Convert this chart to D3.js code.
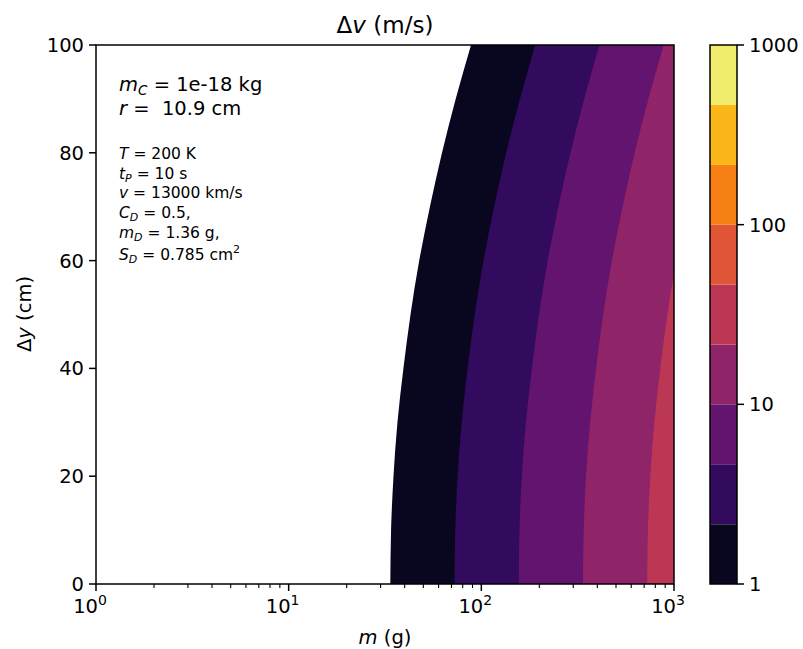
<!DOCTYPE html>
<html>
<head>
<meta charset="utf-8">
<script src="https://cdn.jsdelivr.net/npm/d3@7"></script>
<style>
  body { margin: 0; background: #fff; }
  text { font-family: "DejaVu Sans", sans-serif; fill: #000; white-space: pre; }
</style>
</head>
<body>
<svg id="svg1" width="803" height="649"></svg>
<script>
'use strict';

// values
let dyValues = [0, 10, 20, 30, 40, 50, 60, 70, 80, 90, 100];         // Δy (cm)
let levels   = [1, 2.15, 4.64, 10, 21.5, 46.4, 100, 215, 464, 1000];  // Δv contour levels (m/s)
// m (g) where each contour level crosses Δy = dyValues[i]
let mAt1    = [33.7, 34.0, 35.0, 36.7, 39.4, 42.9, 47.6, 54.1, 62.5, 73.6, 88.4];
let mAt2    = [72.6, 73.2, 75.3, 79.1, 84.8, 92.4, 102.6, 116.5, 134.6, 158.6, 190.4];
let mAt4    = [156.4, 157.7, 162.2, 170.4, 182.8, 199.1, 221.0, 251.0, 290.0, 341.6, 410.2];
let mAt10   = [337.0, 339.8, 349.5, 367.1, 393.8, 429.0, 476.2, 540.8, 624.8, 736.0, 883.8];
let mAt21   = [726.0, 732.1, 753.0, 790.9, 848.4, 924.2, 1026, 1165, 1346, 1586, 1904];
let boundaries = [mAt1, mAt2, mAt4, mAt10, mAt21];
let xTicks = [1, 10, 100, 1000];
let yTicks = [0, 20, 40, 60, 80, 100];
let cbTicks = [1, 10, 100, 1000];

let svg = d3.select("#svg1");
let margin = {top: 45, left: 96},
    width  = 578,
    height = 539;

let x = d3.scaleLog().domain([1, 1000]).range([0, width]);
let y = d3.scaleLinear().domain([0, 100]).range([height, 0]);
let color = i => d3.interpolateInferno((i + 0.5) / (levels.length - 1));

let g = svg.append("g").attr("transform", `translate(${margin.left},${margin.top})`);

g.append("clipPath").attr("id", "plotClip")
  .append("rect").attr("width", width).attr("height", height);

// filled contours, painted from the lowest level upward
let area = d3.area()
  .curve(d3.curveNatural)
  .y(d => y(d.dy))
  .x0(d => x(d.m))
  .x1(width + 60);

let bands = g.append("g").attr("clip-path", "url(#plotClip)");
boundaries.forEach((b, i) => {
  let pts = dyValues.map((dy, j) => ({dy: dy, m: b[j]}));
  bands.append("path")
    .attr("d", area(pts))
    .style("fill", color(i));
});

// x axis (log) with minor ticks
let xAxis = g.append("g").attr("transform", `translate(0,${height})`);
let minor = [];
for (let d = 1; d < 1000; d *= 10) for (let k = 2; k < 10; k++) minor.push(d * k);
xAxis.selectAll(".minor").data(minor).enter().append("line")
  .attr("x1", d => x(d)).attr("x2", d => x(d))
  .attr("y1", 0).attr("y2", 4)
  .style("stroke", "#000").style("stroke-width", 1.1);
xAxis.selectAll(".major").data(xTicks).enter().append("line")
  .attr("x1", d => x(d)).attr("x2", d => x(d))
  .attr("y1", 0).attr("y2", 7)
  .style("stroke", "#000").style("stroke-width", 1.5);
xTicks.forEach(t => {
  let tx = xAxis.append("text")
    .attr("x", x(t) - 6).attr("y", 29)
    .attr("text-anchor", "middle")
    .style("font-size", "19.5px");
  tx.append("tspan").text("10");
  tx.append("tspan").attr("dy", -8).style("font-size", "14px").text(Math.round(Math.log10(t)));
});

// y axis
let yAxis = g.append("g");
yAxis.selectAll(".major").data(yTicks).enter().append("line")
  .attr("x1", -7).attr("x2", 0)
  .attr("y1", d => y(d)).attr("y2", d => y(d))
  .style("stroke", "#000").style("stroke-width", 1.5);
yAxis.selectAll(".lab").data(yTicks).enter().append("text")
  .attr("x", -12).attr("y", d => y(d)).attr("dy", "0.36em")
  .attr("text-anchor", "end")
  .style("font-size", "19.5px")
  .text(d => d);

// frame
g.append("rect").attr("width", width).attr("height", height)
  .style("fill", "none").style("stroke", "#000").style("stroke-width", 1.5);

// titles
svg.append("text").attr("x", 385).attr("y", 33).attr("text-anchor", "middle")
  .style("font-size", "23px")
  .html('Δ<tspan font-style="italic">v</tspan> (m/s)');
svg.append("text").attr("x", 385).attr("y", 644).attr("text-anchor", "middle")
  .style("font-size", "19.5px")
  .html('<tspan font-style="italic">m</tspan> (g)');
svg.append("text").attr("transform", "translate(31,314) rotate(-90)").attr("text-anchor", "middle")
  .style("font-size", "19.5px")
  .html('Δ<tspan font-style="italic">y</tspan> (cm)');

// annotations
let ann = svg.append("g").attr("transform", "translate(119,0)");
ann.append("text").attr("y", 91).style("font-size", "19.5px")
  .html('<tspan font-style="italic">m</tspan><tspan font-style="italic" font-size="13.5px" dy="4">C</tspan><tspan dy="-4"> = 1e-18 kg</tspan>');
ann.append("text").attr("y", 115).style("font-size", "19.5px")
  .html('<tspan font-style="italic">r</tspan> =  10.9 cm');
let small = [
  ['T', '', ' = 200 K'],
  ['t', 'P', ' = 10 s'],
  ['v', '', ' = 13000 km/s'],
  ['C', 'D', ' = 0.5,'],
  ['m', 'D', ' = 1.36 g,'],
  ['S', 'D', ' = 0.785 cm']
];
let smallY = [159, 179, 198, 218, 238, 260];
small.forEach((s, i) => {
  let t = ann.append("text").attr("y", smallY[i]).style("font-size", "15.5px");
  t.append("tspan").attr("font-style", "italic").text(s[0]);
  if (s[1]) {
    t.append("tspan").attr("font-style", "italic").attr("font-size", "11px").attr("dy", 3).text(s[1]);
    t.append("tspan").attr("dy", -3).text(s[2]);
  } else {
    t.append("tspan").text(s[2]);
  }
  if (i === small.length - 1) t.append("tspan").attr("dy", -7).attr("font-size", "11px").text("2");
});

// colour bar
let cb = svg.append("g").attr("transform", "translate(710,45)");
let cbW = 27;
let cy = d3.scaleLog().domain([1, 1000]).range([height, 0]);
cb.selectAll(".band").data(levels.slice(0, -1)).enter().append("rect")
  .attr("x", 0).attr("width", cbW)
  .attr("y", (d, i) => cy(levels[i + 1]))
  .attr("height", (d, i) => cy(levels[i]) - cy(levels[i + 1]))
  .style("fill", (d, i) => color(i));
cb.append("rect").attr("width", cbW).attr("height", height)
  .style("fill", "none").style("stroke", "#000").style("stroke-width", 1.5);
cb.selectAll(".tick").data(cbTicks).enter().append("line")
  .attr("x1", cbW).attr("x2", cbW + 7)
  .attr("y1", d => cy(d)).attr("y2", d => cy(d))
  .style("stroke", "#000").style("stroke-width", 1.5);
cb.selectAll(".lab").data(cbTicks).enter().append("text")
  .attr("x", cbW + 12).attr("y", d => cy(d)).attr("dy", "0.36em")
  .style("font-size", "19.5px")
  .text(d => d);
</script>
</body>
</html>
